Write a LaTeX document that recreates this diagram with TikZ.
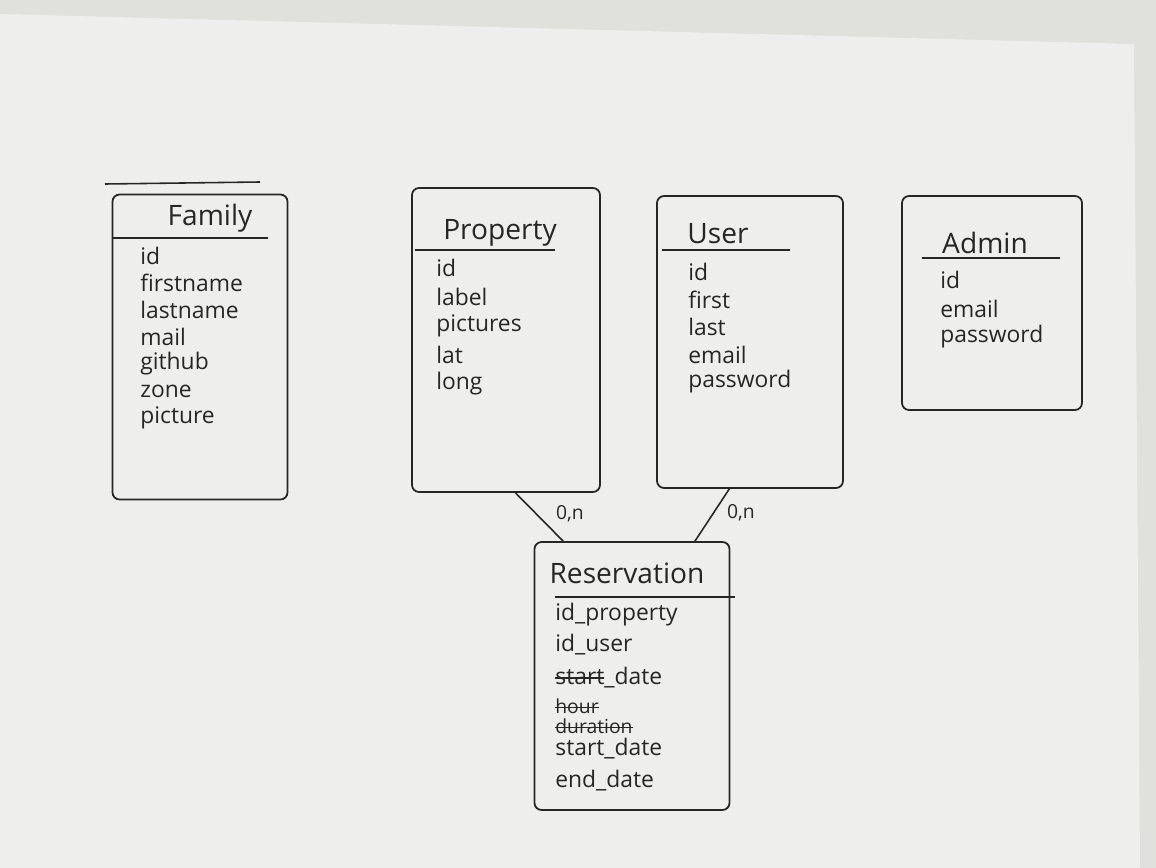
\documentclass[tikz,border=0pt]{standalone}
\usepackage{fontspec}
\setmainfont{Open Sans}
\usetikzlibrary{positioning, calc}

\definecolor{paper}{RGB}{238,238,236}
\definecolor{desk}{RGB}{224,224,220}
\definecolor{ink}{RGB}{38,38,38}

% struck-out word
\newcommand{\crossout}[1]{\setbox0\hbox{#1}\rlap{\rule[0.5ex]{\wd0}{0.8pt}}\box0}
\newcommand{\smallout}[1]{{\fontsize{11}{13}\selectfont\crossout{#1}}}

\begin{document}
\begin{tikzpicture}[
    x=0.02cm, y=-0.02cm, % one unit = one pixel of the sketch
    table/.style={draw=ink, line width=1pt, rounded corners=4pt},
    title/.style={font=\fontsize{16}{19}\selectfont, text=ink},
    attr/.style={anchor=west, font=\fontsize{13}{15}\selectfont, text=ink, inner sep=0pt},
    rule/.style={draw=ink, line width=0.9pt},
    card/.style={font=\fontsize{11}{13}\selectfont, text=ink}
]

  % --- SHEET ---
  \useasboundingbox (0,0) rectangle (1156,868);
  \fill[desk] (0,0) rectangle (1156,868);
  \fill[paper] (0,14) -- (1134,44) -- (1140,868) -- (0,868) -- cycle;

  % --- FAMILY ---
  \draw[rule] (105,184) -- (260,182);
  \node[table, minimum width=3.5cm, minimum height=6.1cm] (fam) at (200,347) {};
  \node[title] (fam-title) at (210,218) {Family};
  \draw[rule] (113,238) -- (268,238);
  \foreach \t [count=\i from 0] in {id,firstname,lastname,mail,github,zone,picture}
    \node[attr] (fam-\i) at (140,256+27*\i) {\t};

  % --- PROPERTY ---
  \node[table, minimum width=3.76cm, minimum height=6.08cm] (prop) at (506,340) {};
  \node[title] (prop-title) at (500,233) {Property};
  \draw[rule] (415,250) -- (555,250);
  \foreach \t [count=\i from 0] in {id,label,pictures,lat,long}
    \node[attr] (prop-\i) at (436,268+29*\i) {\t};

  % --- USER ---
  \node[table, minimum width=3.72cm, minimum height=5.84cm] (user) at (750,342) {};
  \node[title] (user-title) at (718,234) {User};
  \draw[rule] (662,250) -- (790,250);
  \foreach \t [count=\i from 0] in {id,first,last,email,password}
    \node[attr] (user-\i) at (688,272+27.5*\i) {\t};

  % --- ADMIN ---
  \node[table, minimum width=3.6cm, minimum height=4.28cm] (admin) at (992,303) {};
  \node[title] (admin-title) at (985,243) {Admin};
  \draw[rule] (922,258) -- (1060,258);
  \foreach \t [count=\i from 0] in {id,email,password}
    \node[attr] (admin-\i) at (940,280+28.5*\i) {\t};

  % --- RESERVATION ---
  \node[table, minimum width=3.9cm, minimum height=5.36cm] (resa) at (632,676) {};
  \node[title] (resa-title) at (627,573) {Reservation};
  \draw[rule] (555,597) -- (735,597);
  \foreach \y/\t [count=\i] in {615/id\_property, 645/id\_user, 678/\crossout{start}\_date,
      706/\smallout{hour}, 726/\smallout{duration}, 749/start\_date, 781/end\_date}
    \node[attr] (resa-\i) at (555,\y) {\t};

  % Cardinalities
  \draw[rule] ($(prop.south west)!0.55!(prop.south east)$) -- ($(resa.north west)!0.15!(resa.north east)$);
  \draw[rule] ($(user.south west)!0.39!(user.south east)$) -- ($(resa.north west)!0.82!(resa.north east)$);
  \node[card] (card-prop) at (570,514) {0,n};
  \node[card] (card-user) at (741,513) {0,n};

\end{tikzpicture}
\end{document}
